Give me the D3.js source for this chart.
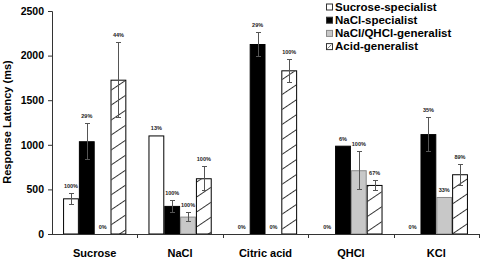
<!DOCTYPE html>
<html>
<head>
<meta charset="utf-8">
<script src="https://cdn.jsdelivr.net/npm/d3@7"></script>
<style>
  body { margin: 0; background: #fff; }
  svg { display: block; font-family: 'Liberation Sans', Arial, sans-serif; }
</style>
</head>
<body>
<div id="chart"></div>
<script>
const categories = ['Sucrose', 'NaCl', 'Citric acid', 'QHCl', 'KCl']
const seriesNames = ['Sucrose-specialist', 'NaCl-specialist', 'NaCl/QHCl-generalist', 'Acid-generalist']

const sucroseSpec = [400, 1105, 0, 0, 0]
const naclSpec = [1040, 315, 2130, 990, 1120]
const naclQhclGen = [0, 195, 0, 715, 415]
const acidGen = [1730, 625, 1835, 550, 670]

const sucroseSpecErr = [60, 0, 0, 0, 0]
const naclSpecErr = [200, 63, 140, 0, 190]
const naclQhclGenErr = [0, 50, 0, 215, 0]
const acidGenErr = [420, 135, 130, 55, 120]

const sucroseSpecPct = ['100%', '13%', '0%', '0%', '0%']
const naclSpecPct = ['29%', '100%', '29%', '6%', '35%']
const naclQhclGenPct = ['0%', '100%', '0%', '100%', '33%']
const acidGenPct = ['44%', '100%', '100%', '67%', '89%']

const yTicks = [0, 500, 1000, 1500, 2000, 2500]

const seriesVals = [sucroseSpec, naclSpec, naclQhclGen, acidGen]
const seriesErr = [sucroseSpecErr, naclSpecErr, naclQhclGenErr, acidGenErr]
const seriesPct = [sucroseSpecPct, naclSpecPct, naclQhclGenPct, acidGenPct]

const width = 480
const height = 261
const margin = { top: 11, left: 52, right: 1, bottom: 27 }

const svg = d3.select('#chart')
  .append('svg')
  .attr('width', width)
  .attr('height', height)

// hatch pattern for the acid generalists
const defs = svg.append('defs')
defs.append('pattern')
  .attr('id', 'hatch')
  .attr('patternUnits', 'userSpaceOnUse')
  .attr('width', 10)
  .attr('height', 12.4)
  .attr('patternTransform', 'rotate(-34)')
  .append('line')
  .attr('x1', 0).attr('y1', 0.5)
  .attr('x2', 10).attr('y2', 0.5)
  .attr('stroke', '#000')
  .attr('stroke-width', 0.8)

const fills = ['#fff', '#000', '#c8c8c8', 'url(#hatch)']
const strokes = ['#000', '#000', '#8a8a8a', '#000']

const x0 = d3.scaleBand()
  .domain(categories)
  .range([margin.left, width - margin.right])
  .padding(0)

const x1 = d3.scaleBand()
  .domain(seriesNames)
  .range([0, x0.bandwidth()])
  .paddingInner(0)
  .paddingOuter(0.7)

const y = d3.scaleLinear()
  .domain([0, 2500])
  .range([height - margin.bottom, margin.top])

// flatten into rows for the bars
const rows = []
categories.forEach(function(c, i) {
  seriesNames.forEach(function(s, j) {
    rows.push({ cat: c, series: s, idx: j, value: seriesVals[j][i], err: seriesErr[j][i], pct: seriesPct[j][i] })
  })
})

const bars = svg.append('g')
bars.selectAll('rect')
  .data(rows.filter(d => d.value > 0))
  .enter()
  .append('rect')
  .attr('x', d => x0(d.cat) + x1(d.series) + 0.5)
  .attr('y', d => y(d.value) + 0.5)
  .attr('width', x1.bandwidth() - 1)
  .attr('height', d => y(0) - y(d.value) - 0.5)
  .attr('fill', d => d.idx === 3 ? '#fff' : fills[d.idx])
  .attr('stroke', d => strokes[d.idx])
  .attr('stroke-width', 1)

bars.selectAll('.hatch')
  .data(rows.filter(d => d.value > 0 && d.idx === 3))
  .enter()
  .append('rect')
  .attr('class', 'hatch')
  .attr('x', d => x0(d.cat) + x1(d.series) + 1)
  .attr('y', d => y(d.value) + 1)
  .attr('width', x1.bandwidth() - 2)
  .attr('height', d => y(0) - y(d.value) - 1)
  .attr('fill', 'url(#hatch)')

// error bars
const errs = svg.append('g')
  .attr('stroke', '#555')
  .attr('stroke-width', 1)
rows.filter(d => d.err > 0).forEach(function(d) {
  const cx = Math.round(x0(d.cat) + x1(d.series) + x1.bandwidth() / 2) + 0.5
  const top = Math.round(y(d.value + d.err)) + 0.5
  const bot = Math.round(y(d.value - d.err)) + 0.5
  errs.append('line').attr('x1', cx).attr('x2', cx).attr('y1', top).attr('y2', bot)
  errs.append('line').attr('x1', cx - 2.5).attr('x2', cx + 2.5).attr('y1', top).attr('y2', top)
  errs.append('line').attr('x1', cx - 2.5).attr('x2', cx + 2.5).attr('y1', bot).attr('y2', bot)
})

// percentage labels
svg.append('g')
  .selectAll('text')
  .data(rows)
  .enter()
  .append('text')
  .attr('x', d => x0(d.cat) + x1(d.series) + x1.bandwidth() / 2)
  .attr('y', d => y(d.value + d.err) - 5)
  .attr('text-anchor', 'middle')
  .attr('font-size', '5.5px')
  .attr('font-weight', 'bold')
  .attr('fill', '#222')
  .text(d => d.pct)

// y axis
const yAxis = d3.axisLeft(y).tickValues(yTicks).tickFormat(d3.format('d')).tickSize(4).tickPadding(4)
svg.append('g')
  .attr('transform', 'translate(' + margin.left + ',0)')
  .call(yAxis)
  .call(g => g.select('.domain').attr('stroke', '#333'))
  .call(g => g.selectAll('.tick line').attr('stroke', '#333'))
  .call(g => g.selectAll('.tick text')
    .attr('font-size', '10.5px')
    .attr('font-weight', 'bold')
    .attr('fill', '#000')
    .attr('font-family', 'Liberation Sans, Arial, sans-serif'))

// x axis: ticks at category boundaries
const xAxisG = svg.append('g')
  .attr('stroke', '#333')
  .attr('stroke-width', 1)
xAxisG.append('line')
  .attr('x1', margin.left).attr('x2', width - margin.right)
  .attr('y1', y(0) + 0.5).attr('y2', y(0) + 0.5)
categories.forEach(function(c) {
  const bx = Math.round(x0(c) + x0.bandwidth()) + 0.5
  xAxisG.append('line').attr('x1', bx).attr('x2', bx).attr('y1', y(0)).attr('y2', y(0) + 4)
})

svg.append('g')
  .selectAll('text')
  .data(categories)
  .enter()
  .append('text')
  .attr('x', d => x0(d) + x0.bandwidth() / 2)
  .attr('y', 257)
  .attr('text-anchor', 'middle')
  .attr('font-size', '11px')
  .attr('font-weight', 'bold')
  .text(d => d)

// y title
svg.append('text')
  .attr('transform', 'translate(11,' + 122 + ') rotate(-90)')
  .attr('text-anchor', 'middle')
  .attr('font-size', '11px')
  .attr('font-weight', 'bold')
  .text('Response Latency (ms)')

// legend
const legend = svg.append('g')
seriesNames.forEach(function(s, i) {
  const ly = 7.5 + i * 13.2
  legend.append('rect')
    .attr('x', 326.5).attr('y', ly - 3.5)
    .attr('width', 6).attr('height', 6)
    .attr('fill', i === 3 ? '#fff' : fills[i])
    .attr('stroke', i === 2 ? '#8a8a8a' : '#333')
  if (i === 3) {
    legend.append('line')
      .attr('x1', 327.5).attr('y1', ly + 1.5)
      .attr('x2', 331.5).attr('y2', ly - 2.5)
      .attr('stroke', '#333').attr('stroke-width', 0.7)
  }
  legend.append('text')
    .attr('x', 335)
    .attr('y', ly)
    .attr('dominant-baseline', 'middle')
    .attr('font-size', '11.5px')
    .attr('font-weight', 'bold')
    .text(s)
})
</script>
</body>
</html>
